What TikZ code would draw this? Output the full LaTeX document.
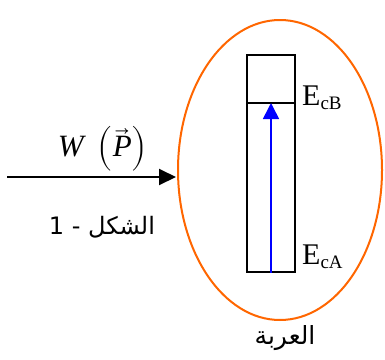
\documentclass[tikz,border=0pt]{standalone}
\usepackage{fontspec}
\setmainfont{Liberation Serif}
\newfontfamily\arabicfont[Script=Arabic]{DejaVu Sans}
\usepackage{unicode-math}
\setmathfont{Latin Modern Math}
\setmathfont[range=it]{Liberation Serif Italic}
\usetikzlibrary{arrows.meta}
\TeXXeTstate=1
\newcommand{\subtxt}[1]{\raisebox{-4pt}{\fontsize{19}{20}\selectfont #1}}
\begin{document}
\begin{tikzpicture}[x=1pt,y=-1pt,
  lbl/.style={inner sep=0pt, anchor=base west, font=\fontsize{30}{32}\selectfont},
  arabic/.style={inner sep=0pt, font=\arabicfont\fontsize{24}{28}\selectfont}]
\useasboundingbox (0,0) rectangle (385,359);
\definecolor{orng}{RGB}{255,102,0}
\draw[orng, line width=2pt] (280,170) ellipse [x radius=102, y radius=150];
\node[draw, line width=1.8pt, minimum width=48pt, minimum height=217pt, inner sep=0pt] (bar) at (271,163.5) {};
\coordinate (mid) at (271,103);
\draw[line width=1.8pt] (bar.west |- mid) -- (bar.east |- mid);
\draw[blue, line width=1.6pt, -{Triangle[width=16pt,length=16pt]}] (bar.south) -- (mid);
\node[lbl] (ecb) at (302,105) {E\subtxt{cB}};
\node[lbl] (eca) at (302,264) {E\subtxt{cA}};
\coordinate (start) at (7,177);
\coordinate (end) at (176,177);
\draw[line width=2pt, -{Triangle[width=16pt,length=17pt]}] (start) -- (end);
\node[inner sep=0pt, font=\fontsize{31}{34}\selectfont] (w) at (103,149) {$W\ \left(\vec{P}\right)$};
\node[arabic] (fig) at (102,227) {\beginR الشكل - 1\endR};
\node[arabic, font=\arabicfont\fontsize{25}{28}\selectfont] (cart) at (285,338) {\beginR العربة\endR};
\end{tikzpicture}
\end{document}
